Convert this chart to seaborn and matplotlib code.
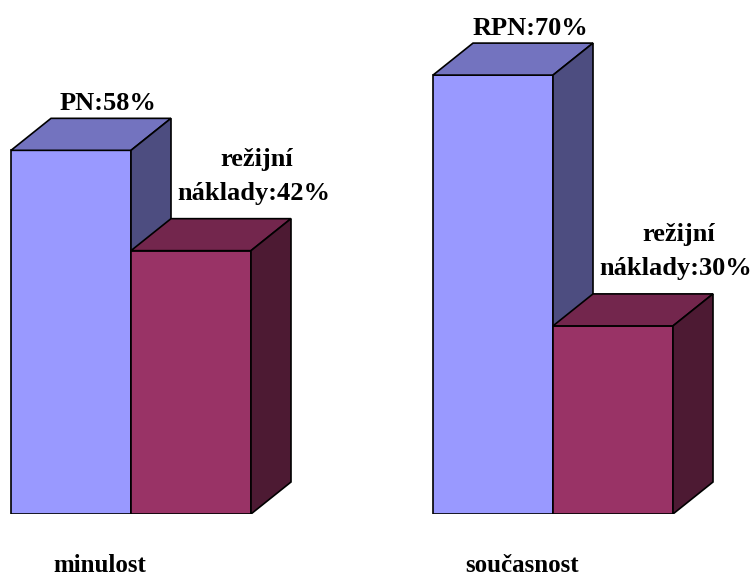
import numpy as np
import pandas as pd
import matplotlib
matplotlib.use("Agg")
import matplotlib.pyplot as plt
import seaborn as sns
from matplotlib.patches import Polygon
from matplotlib.colors import to_rgb

# Data
obdobi = ["minulost", "současnost"]
hlavni_nazvy = ["PN", "RPN"]
hlavni = [58, 70]
rezijni = [42, 30]
rezijni_radky = ["režijní", "náklady"]

slozky = ["hlavní", "režijní"]
barvy = {"hlavní": "#9999FF", "režijní": "#993366"}

df = pd.DataFrame({
    "období": obdobi * 2,
    "složka": [slozky[0]] * len(obdobi) + [slozky[1]] * len(obdobi),
    "podíl": hlavni + rezijni,
})

sns.set_theme(style="white")
plt.rcParams["font.family"] = ["Liberation Serif", "DejaVu Serif"]

fig = plt.figure(figsize=(7.52, 5.80), dpi=100)
ax = fig.add_axes([0, 66 / 580, 1, 501.6 / 580])

sns.barplot(data=df, x="období", y="podíl", hue="složka", hue_order=slozky,
            palette=barvy, width=0.5687, saturation=1, edgecolor="black",
            linewidth=1.2, legend=False, ax=ax)

ax.set_xlim(-131 / 422, 621 / 422)
ax.set_ylim(0, 80)
ax.axis("off")

# depth of the pseudo-3D boxes in data units
DX = 40 / 422
DY = 32 / 6.27

red_rgb = np.array(to_rgb(barvy["režijní"]))
bars = []
for p in list(ax.patches):
    x0, w, h = p.get_x(), p.get_width(), p.get_height()
    base = np.array(to_rgb(p.get_facecolor()))
    is_red = np.allclose(base, red_rgb, atol=0.02)
    z = 3 if is_red else 2
    p.set_zorder(z)
    top = Polygon([(x0, h), (x0 + DX, h + DY), (x0 + w + DX, h + DY), (x0 + w, h)],
                  closed=True, facecolor=base * 0.75, edgecolor="black",
                  linewidth=1.2, joinstyle="miter", zorder=z)
    side = Polygon([(x0 + w, 0), (x0 + w, h), (x0 + w + DX, h + DY), (x0 + w + DX, DY)],
                   closed=True, facecolor=base * 0.5, edgecolor="black",
                   linewidth=1.2, joinstyle="miter", zorder=z)
    ax.add_patch(top)
    ax.add_patch(side)
    bars.append((is_red, x0 + w / 2, h))

lbl = dict(ha="center", va="baseline", fontsize=19, fontweight="bold",
           color="black", textcoords="offset pixels", annotation_clip=False)

blue_bars = sorted([b for b in bars if not b[0]], key=lambda b: b[1])
red_bars = sorted([b for b in bars if b[0]], key=lambda b: b[1])

for (_, cx, h), name, v in zip(blue_bars, hlavni_nazvy, hlavni):
    ax.annotate(f"{name}:{v}%", xy=(cx, h), xytext=(37, 40), **lbl)

for (_, cx, h), v in zip(red_bars, rezijni):
    ax.annotate(rezijni_radky[0], xy=(cx, h), xytext=(66, 85), **lbl)
    ax.annotate(f"{rezijni_radky[1]}:{v}%", xy=(cx, h), xytext=(63, 51), **lbl)

# category names below the boxes
for i, name in enumerate(obdobi):
    ax.text(i - 0.074, -9.2, name, ha="center", va="baseline", fontsize=18,
            fontweight="bold", color="black", clip_on=False)

fig.savefig("out.png", dpi=100)
